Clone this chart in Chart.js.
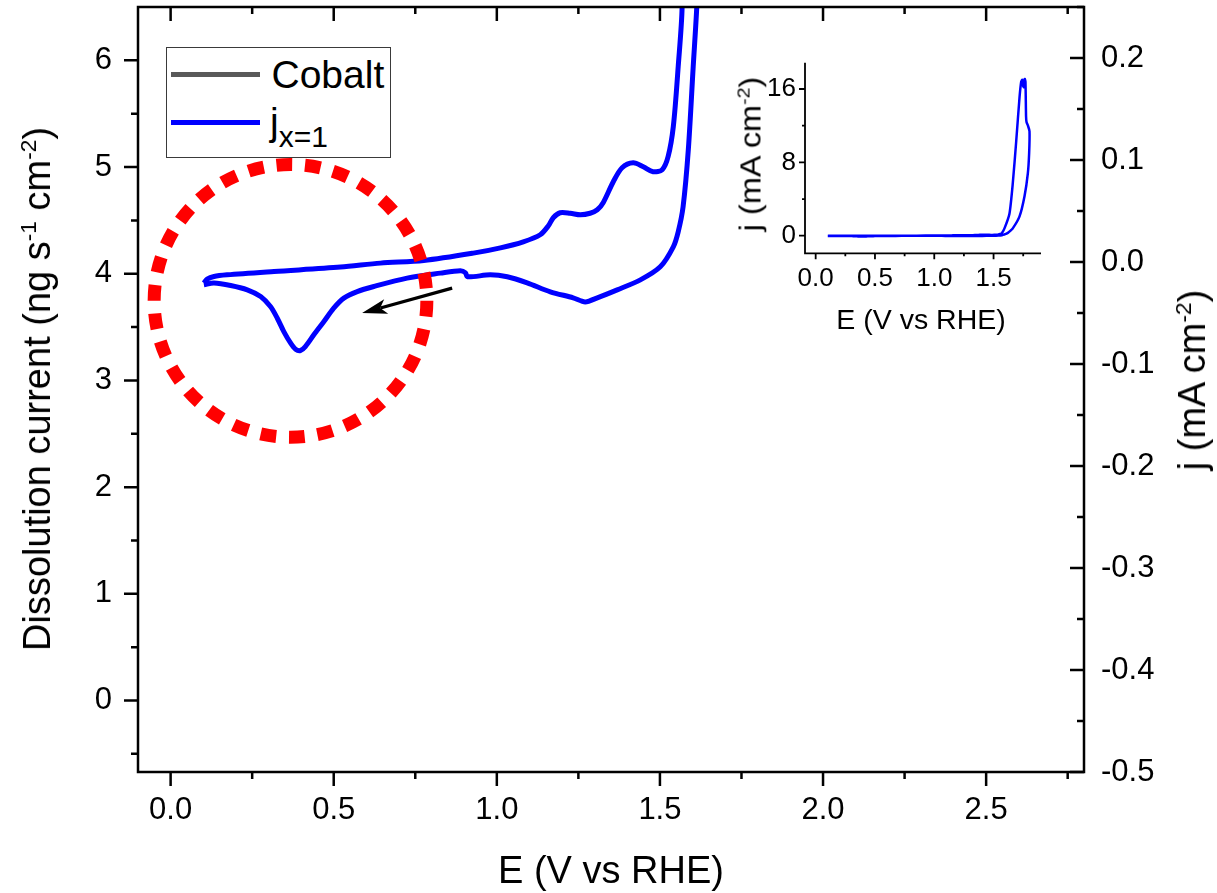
<!DOCTYPE html>
<html>
<head>
<meta charset="utf-8">
<title>Cobalt dissolution and CV</title>
<script src="https://cdn.jsdelivr.net/npm/chart.js@4.4.1/dist/chart.umd.min.js"></script>
<style>
  html, body { margin: 0; padding: 0; background: #fff; }
  #wrap { position: relative; width: 1217px; height: 893px; overflow: hidden; background: #fff; }
  canvas { position: absolute; }
  .t { position: absolute; font-family: 'Liberation Sans', Arial, Helvetica, sans-serif; color: #000;
       white-space: nowrap; line-height: 1; }
  .t sup { font-size: 0.6em; position: relative; top: -0.62em; vertical-align: baseline; line-height: 0; }
  .rot { transform: translate(-50%, -50%) rotate(-90deg); }
  .rotw { transform: translate(-50%, -50%) rotate(-90deg) scaleX(1.12); }
  .hc { transform: translateX(-50%); }
  #legend { position: absolute; left: 166px; top: 47px; width: 225px; height: 111px; box-sizing: border-box;
            border: 1.5px solid #3a3a3a; background: #fff; }
  .swatch { position: absolute; height: 5px; }
</style>
</head>
<body>
<div id="wrap">
  <canvas id="main" width="1217" height="893" style="left:0;top:0"></canvas>
  <canvas id="inset" width="360" height="310" style="left:700px;top:40px"></canvas>

  <div id="legend"></div>
  <div class="swatch" id="sw0" style="left:171px;top:71.5px;width:89px"></div>
  <div class="swatch" id="sw1" style="left:171px;top:120px;width:89px"></div>
  <div class="t" id="lg0" style="left:271.5px;top:55.3px;font-size:39px">Cobalt</div>
  <div class="t" id="lg1" style="left:270px;top:101.5px;font-size:39px">j<span style="font-size:30px;position:relative;top:12px">x=1</span></div>

  <div class="t hc" style="left:611px;top:850.8px;font-size:38px">E (V vs RHE)</div>
  <div class="t rot" style="left:36.8px;top:389px;font-size:38px">Dissolution current (ng s<sup>-1</sup> cm<sup>-2</sup>)</div>
  <div class="t rot" style="left:1192px;top:380px;font-size:38px">j (mA cm<sup>-2</sup>)</div>

  <div class="t hc" style="left:921px;top:305px;font-size:28.5px">E (V vs RHE)</div>
  <div class="t rotw" style="left:750.5px;top:154px;font-size:29px">j (mA cm<sup>-2</sup>)</div>
</div>

<script>
// ---- cyclic voltammogram, x = 1 (E in V vs RHE, j in mA cm^-2) ----
// anodic sweep from 0.1 V, vertex near 1.8 V, cathodic sweep back to 0.1 V
const cvE = [
  0.102, 0.112, 0.133, 0.173, 0.317, 0.521, 0.643, 0.776, 0.928, 1.011, 1.081, 1.133,
  1.158, 1.173, 1.194, 1.225, 1.256, 1.286, 1.308, 1.326, 1.357, 1.384, 1.418, 1.449, 1.479, 1.507,
  1.525, 1.541, 1.556, 1.568,
  1.592, 1.634, 1.662, 1.691, 1.719, 1.733, 1.742, 1.750, 1.757, 1.763, 1.769, 1.774, 1.778, 1.790,
  1.803, 1.800, 1.789, 1.761, 1.719, 1.662, 1.625,
  1.613, 1.602, 1.587, 1.571, 1.556, 1.541, 1.501, 1.440, 1.369, 1.308, 1.271, 1.234, 1.164, 1.093,
  1.032, 0.980, 0.910, 0.904, 0.888, 0.827, 0.725, 0.623, 0.572, 0.531, 0.500, 0.470, 0.439, 0.413,
  0.398, 0.383, 0.368, 0.347, 0.327, 0.306, 0.276, 0.235, 0.184, 0.133, 0.102
];
const cvJ = [
  -0.0207, -0.0168, -0.0142, -0.0126, -0.0093, -0.0050, -0.0011, 0.0015, 0.0087, 0.0139, 0.0198, 0.0267,
  0.0355, 0.0434, 0.0483, 0.0478, 0.0463, 0.0478, 0.0512, 0.0581, 0.0787, 0.0924, 0.0973, 0.0934, 0.0885, 0.0905,
  0.1032, 0.1327, 0.1916, 0.2505,
  0.8, 2.4, 5.7, 10.3, 15.1, 16.8, 17.0, 16.3, 16.2, 17.1, 16.8, 13.0, 12.4, 12.0,
  11.4, 9.0, 6.8, 4.3, 2.1, 0.8, 0.35,
  0.2505, 0.1916, 0.1100, 0.0542, 0.0296, 0.0149, -0.0047, -0.0175, -0.0273, -0.0351, -0.0391, -0.0351, -0.0292, -0.0204,
  -0.0145, -0.0126, -0.0145, -0.0106, -0.0086, -0.0109, -0.0158, -0.0240, -0.0290, -0.0354, -0.0452, -0.0583, -0.0714, -0.0829,
  -0.0868, -0.0855, -0.0796, -0.0682, -0.0551, -0.0437, -0.0339, -0.0273, -0.0231, -0.0207, -0.0224
];

// cobalt dissolution rate (ng s^-1 cm^-2); no trace recorded for this sweep
const cobaltE = [];
const cobaltRate = [];

// series names
const seriesNames = ['Cobalt', 'j'];

// main axes ticks
const xTicks = [0, 0.5, 1.0, 1.5, 2.0, 2.5];
const xMinor = [0.25, 0.75, 1.25, 1.75, 2.25, 2.75];
const yLeftTicks = [0, 1, 2, 3, 4, 5, 6];
const yLeftMinor = [-0.5, 0.5, 1.5, 2.5, 3.5, 4.5, 5.5];
const yRightTicks = [-0.5, -0.4, -0.3, -0.2, -0.1, 0, 0.1, 0.2];
const yRightMinor = [-0.45, -0.35, -0.25, -0.15, -0.05, 0.05, 0.15, 0.25];

// inset axes ticks
const insetXTicks = [0, 0.5, 1.0, 1.5];
const insetXMinor = [0.25, 0.75, 1.25, 1.75];
const insetYTicks = [0, 8, 16];
const insetYMinor = [4, 12];

// ---- styling ----
const FONT = "'Liberation Sans', Arial, Helvetica, sans-serif";
const COBALT_COLOR = '#595959';
const J_COLOR = '#0000ff';

document.getElementById('sw0').style.background = COBALT_COLOR;
document.getElementById('sw1').style.background = J_COLOR;

const pairs = (xs, ys) => xs.map((x, i) => ({ x, y: ys[i] }));

// keep the plot area where the axis widths put it (no extra label overhang padding)
const fixX = h => s => { s.height = h; s.paddingLeft = 0; s.paddingRight = 0; };
const fixY = w => s => { s.width = w; s.paddingTop = 0; s.paddingBottom = 0; };

// frame lines and major/minor tick marks (inward or outward)
const frameTicks = {
  id: 'frameTicks',
  afterDraw(chart, args, o) {
    const ctx = chart.ctx, a = chart.chartArea;
    ctx.save();
    ctx.strokeStyle = '#000';
    ctx.lineWidth = o.width;
    ctx.lineCap = 'butt';
    ctx.beginPath();
    const h = o.width / 2;
    if (o.sides.includes('left'))   { ctx.moveTo(a.left, a.top - (o.sides.includes('top') ? h : 0)); ctx.lineTo(a.left, a.bottom + h); }
    if (o.sides.includes('bottom')) { ctx.moveTo(a.left - h, a.bottom); ctx.lineTo(a.right + (o.sides.includes('right') ? h : 0), a.bottom); }
    if (o.sides.includes('right'))  { ctx.moveTo(a.right, a.top - h); ctx.lineTo(a.right, a.bottom + h); }
    if (o.sides.includes('top'))    { ctx.moveTo(a.left - h, a.top); ctx.lineTo(a.right + h, a.top); }
    ctx.stroke();

    ctx.beginPath();
    o.axes.forEach(ax => {
      const s = chart.scales[ax.scale];
      const mark = (v, len) => {
        const p = s.getPixelForValue(v);
        if (ax.edge === 'bottom') { const y = a.bottom; ctx.moveTo(p, y); ctx.lineTo(p, ax.out ? y + len : y - len); }
        if (ax.edge === 'top')    { const y = a.top;    ctx.moveTo(p, y); ctx.lineTo(p, ax.out ? y - len : y + len); }
        if (ax.edge === 'left')   { const x = a.left;   ctx.moveTo(x, p); ctx.lineTo(ax.out ? x - len : x + len, p); }
        if (ax.edge === 'right')  { const x = a.right;  ctx.moveTo(x, p); ctx.lineTo(ax.out ? x + len : x - len, p); }
      };
      ax.major.forEach(v => mark(v, o.majorLen));
      ax.minor.forEach(v => mark(v, o.minorLen));
    });
    ctx.stroke();
    ctx.restore();
  }
};

// dotted red ring and sweep-direction arrow
const marks = {
  id: 'marks',
  afterDatasetsDraw(chart, args, o) {
    const ctx = chart.ctx, sx = chart.scales.x, sy = chart.scales.y2;
    ctx.save();
    // arrow
    const x0 = sx.getPixelForValue(o.arrow.from[0]), y0 = sy.getPixelForValue(o.arrow.from[1]);
    const x1 = sx.getPixelForValue(o.arrow.to[0]), y1 = sy.getPixelForValue(o.arrow.to[1]);
    const ang = Math.atan2(y1 - y0, x1 - x0);
    const hl = 25, hw = 7.5;
    const bx = x1 - hl * Math.cos(ang), by = y1 - hl * Math.sin(ang);
    ctx.strokeStyle = '#000'; ctx.fillStyle = '#000'; ctx.lineWidth = 3.3;
    ctx.beginPath(); ctx.moveTo(x0, y0); ctx.lineTo(bx + 6 * Math.cos(ang), by + 6 * Math.sin(ang)); ctx.stroke();
    ctx.beginPath();
    ctx.moveTo(x1, y1);
    ctx.lineTo(bx + hw * Math.sin(ang), by - hw * Math.cos(ang));
    ctx.lineTo(bx + 0.25 * hl * Math.cos(ang), by + 0.25 * hl * Math.sin(ang));
    ctx.lineTo(bx - hw * Math.sin(ang), by + hw * Math.cos(ang));
    ctx.closePath(); ctx.fill();
    // ring
    const cx = sx.getPixelForValue(o.ring.e), cy = sy.getPixelForValue(o.ring.j);
    const r = sx.getPixelForValue(o.ring.e + o.ring.rE) - cx;
    const seg = 2 * Math.PI * r / o.ring.n;
    ctx.strokeStyle = '#ff0000'; ctx.lineWidth = 13; ctx.lineCap = 'butt';
    ctx.setLineDash([seg * 0.55, seg * 0.45]);
    ctx.lineDashOffset = o.ring.offset;
    ctx.beginPath(); ctx.arc(cx, cy, r, 0, 2 * Math.PI); ctx.stroke();
    ctx.restore();
  }
};

const tickFont = size => ({ family: FONT, size });

new Chart(document.getElementById('main'), {
  type: 'scatter',
  data: {
    datasets: [
      { label: seriesNames[0], data: pairs(cobaltE, cobaltRate), yAxisID: 'y', showLine: true,
        borderColor: COBALT_COLOR, borderWidth: 5, pointRadius: 0 },
      { label: seriesNames[1], data: pairs(cvE, cvJ), yAxisID: 'y2', showLine: true,
        borderColor: J_COLOR, borderWidth: 5, pointRadius: 0, tension: 0.3 }
    ]
  },
  options: {
    responsive: false, animation: false, devicePixelRatio: 1,
    layout: { padding: { top: 7, left: 0, right: 0, bottom: 0 } },
    events: [],
    plugins: {
      legend: { display: false }, tooltip: { enabled: false },
      frameTicks: {
        width: 2.5, majorLen: 14, minorLen: 7, sides: ['left', 'bottom', 'right', 'top'],
        axes: [
          { scale: 'x', edge: 'bottom', out: true, major: xTicks, minor: xMinor },
          { scale: 'x', edge: 'top', out: false, major: xTicks, minor: xMinor },
          { scale: 'y', edge: 'left', out: true, major: yLeftTicks, minor: yLeftMinor },
          { scale: 'y2', edge: 'right', out: false, major: yRightTicks, minor: yRightMinor }
        ]
      },
      marks: {
        arrow: { from: [0.863, -0.0256], to: [0.587, -0.0501] },
        ring: { e: 0.3675, j: -0.0381, rE: 0.418, n: 30, offset: 0 }
      }
    },
    scales: {
      x: {
        type: 'linear', position: 'bottom', min: -0.1, max: 2.8,
        grid: { display: false, drawTicks: false }, border: { display: false },
        afterBuildTicks: s => { s.ticks = xTicks.map(v => ({ value: v })); },
        afterFit: fixX(121),
        ticks: { font: tickFont(31), color: '#000', padding: 19.4, maxRotation: 0, autoSkip: false,
                 callback: v => v.toFixed(1) }
      },
      y: {
        type: 'linear', position: 'left', min: -0.67, max: 6.5,
        grid: { display: false, drawTicks: false }, border: { display: false },
        afterBuildTicks: s => { s.ticks = yLeftTicks.map(v => ({ value: v })); },
        afterFit: fixY(138),
        ticks: { font: tickFont(31), color: '#000', padding: 26, autoSkip: false,
                 callback: v => String(v) }
      },
      y2: {
        type: 'linear', position: 'right', min: -0.5, max: 0.25,
        grid: { display: false, drawTicks: false }, border: { display: false },
        afterBuildTicks: s => { s.ticks = yRightTicks.map(v => ({ value: v })); },
        afterFit: fixY(133),
        ticks: { font: tickFont(31), color: '#000', padding: 17, autoSkip: false,
                 callback: v => (Math.abs(v) < 1e-9 ? 0 : v).toFixed(1) }
      }
    }
  },
  plugins: [frameTicks, marks]
});

// inset: full sweep including the oxygen-evolution region
new Chart(document.getElementById('inset'), {
  type: 'scatter',
  data: {
    datasets: [
      { label: seriesNames[1], data: pairs(cvE, cvJ), showLine: true,
        borderColor: J_COLOR, borderWidth: 2.5, pointRadius: 0, tension: 0.2 }
    ]
  },
  options: {
    responsive: false, animation: false, devicePixelRatio: 1,
    layout: { padding: { top: 22.7, right: 19, left: 0, bottom: 0 } },
    events: [],
    plugins: {
      legend: { display: false }, tooltip: { enabled: false },
      frameTicks: {
        width: 1.8, majorLen: 6, minorLen: 3, sides: ['left', 'bottom'],
        axes: [
          { scale: 'x', edge: 'bottom', out: true, major: insetXTicks, minor: insetXMinor },
          { scale: 'y', edge: 'left', out: true, major: insetYTicks, minor: insetYMinor }
        ]
      }
    },
    scales: {
      x: {
        type: 'linear', min: -0.09, max: 1.9,
        grid: { display: false, drawTicks: false }, border: { display: false },
        afterBuildTicks: s => { s.ticks = insetXTicks.map(v => ({ value: v })); },
        afterFit: fixX(96.7),
        ticks: { font: tickFont(26), color: '#000', padding: 10, maxRotation: 0, autoSkip: false,
                 callback: v => v.toFixed(1) }
      },
      y: {
        type: 'linear', min: -1.92, max: 18.87,
        grid: { display: false, drawTicks: false }, border: { display: false },
        afterBuildTicks: s => { s.ticks = insetYTicks.map(v => ({ value: v })); },
        afterFit: fixY(105),
        ticks: { font: tickFont(26), color: '#000', padding: 9, autoSkip: false,
                 callback: v => String(v) }
      }
    }
  },
  plugins: [frameTicks]
});
</script>
</body>
</html>
